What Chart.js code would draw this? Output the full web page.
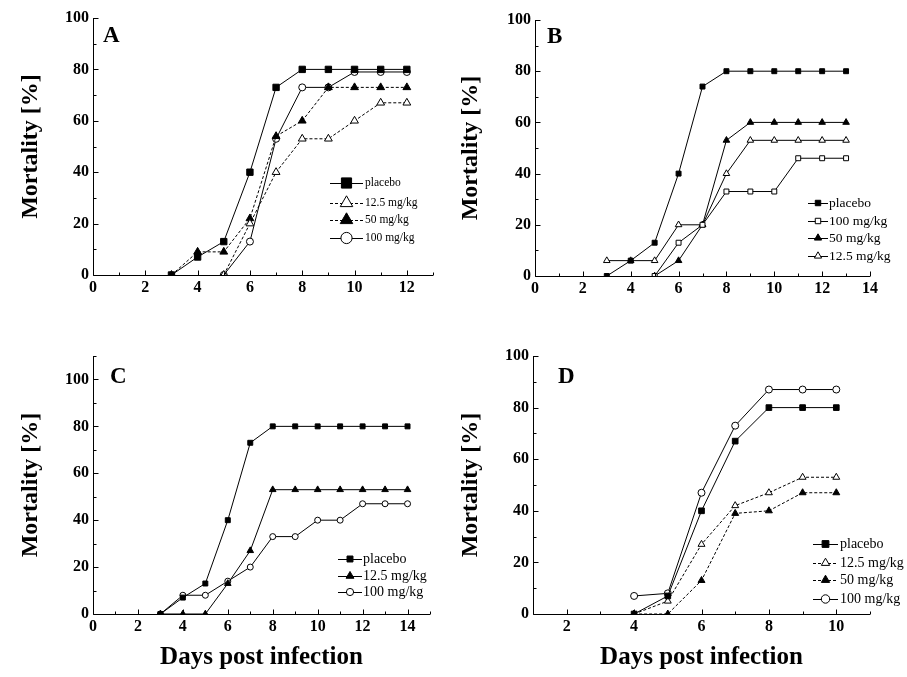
<!DOCTYPE html>
<html>
<head>
<meta charset="utf-8">
<script src="https://cdn.jsdelivr.net/npm/chart.js@4.4.0/dist/chart.umd.min.js"></script>
<style>
  body { margin:0; background:#fff; width:907px; height:677px; position:relative; overflow:hidden; }
  canvas { position:absolute; }
</style>
</head>
<body>
<canvas id="chartA" width="450" height="310" style="left:0;top:0"></canvas>
<canvas id="chartB" width="467" height="310" style="left:440px;top:0"></canvas>
<canvas id="chartC" width="450" height="347" style="left:0;top:330px"></canvas>
<canvas id="chartD" width="467" height="347" style="left:440px;top:330px"></canvas>
<script>
// --- data ---
const daysA = [3, 4, 5, 6, 7, 8, 9, 10, 11, 12];
const placeboA = [0, 7, 13, 40, 73, 80, 80, 80, 80, 80];
const mg125A = [null, null, 0, 20, 40, 53, 53, 60, 67, 67];
const mg50A = [0, 9, 9, 22, 54, 60, 73, 73, 73, 73];
const mg100A = [null, null, 0, 13, 53, 73, 73, 79, 79, 79];

const daysB = [3, 4, 5, 6, 7, 8, 9, 10, 11, 12, 13];
const placeboB = [0, 6, 13, 40, 74, 80, 80, 80, 80, 80, 80];
const mg100B = [null, null, 0, 13, 20, 33, 33, 33, 46, 46, 46];
const mg50B = [null, null, 0, 6, 20, 53, 60, 60, 60, 60, 60];
const mg125B = [6, 6, 6, 20, 20, 40, 53, 53, 53, 53, 53];

const daysC = [3, 4, 5, 6, 7, 8, 9, 10, 11, 12, 13, 14];
const placeboC = [0, 7, 13, 40, 73, 80, 80, 80, 80, 80, 80, 80];
const mg125C = [0, 0, 0, 13, 27, 53, 53, 53, 53, 53, 53, 53];
const mg100C = [0, 8, 8, 14, 20, 33, 33, 40, 40, 47, 47, 47];

const daysD = [4, 5, 6, 7, 8, 9, 10];
const placeboD = [0, 7, 40, 67, 80, 80, 80];
const mg125D = [0, 5, 27, 42, 47, 53, 53];
const mg50D = [0, 0, 13, 39, 40, 47, 47];
const mg100D = [7, 8, 47, 73, 87, 87, 87];

const FAMILY = "'Liberation Serif', 'Times New Roman', serif";

// marker kinds: sq = filled square, osq = open square, tri / otri = triangles, oc = open circle
function series(label, days, values, kind, r, dashed) {
  const open = kind.charAt(0) === 'o';
  const style = { sq: 'rect', osq: 'rect', tri: 'triangle', otri: 'triangle', oc: 'circle' }[kind];
  return {
    label: label,
    data: days.map((d, i) => ({ x: d, y: values[i] })),
    borderColor: '#000',
    borderWidth: 1,
    borderDash: dashed ? [3, 2] : [],
    pointStyle: style,
    pointRadius: r,
    pointBackgroundColor: open ? '#fff' : '#000',
    pointBorderColor: '#000',
    pointBorderWidth: 1,
    fill: false,
    tension: 0,
    spanGaps: false
  };
}

// axis lines + inward ticks (minor every step, longer at labelled values)
const inwardTicks = {
  id: 'inwardTicks',
  afterDraw(chart) {
    const { ctx, scales: { x, y } } = chart;
    ctx.save();
    ctx.strokeStyle = '#000';
    ctx.lineWidth = 1;
    ctx.beginPath();
    const bx = Math.round(x.top) + 0.5;
    const ly = Math.round(y.right) + 0.5;
    ctx.moveTo(ly, y.top);
    ctx.lineTo(ly, bx);
    ctx.lineTo(x.right, bx);
    for (let v = x.min; v <= x.max; v++) {
      const px = Math.round(x.getPixelForValue(v)) + 0.5;
      const len = v % 2 === 0 ? 5 : 3;
      ctx.moveTo(px, bx);
      ctx.lineTo(px, bx - len);
    }
    for (let v = y.min; v <= y.max; v += 10) {
      const py = Math.round(y.getPixelForValue(v)) + 0.5;
      const len = v % 20 === 0 ? 5 : 3;
      ctx.moveTo(ly, py);
      ctx.lineTo(ly + len, py);
    }
    ctx.stroke();
    ctx.restore();
  }
};

// panel letter and in-plot legend
const panelDeco = {
  id: 'panelDeco',
  afterDraw(chart, args, opts) {
    const ctx = chart.ctx;
    ctx.save();
    ctx.fillStyle = '#000';
    ctx.font = 'bold 23px ' + FAMILY;
    ctx.textBaseline = 'alphabetic';
    ctx.fillText(opts.letter, opts.lx, opts.ly);

    ctx.font = opts.fontSize + 'px ' + FAMILY;
    ctx.textBaseline = 'middle';
    chart.data.datasets.forEach((ds, i) => {
      const yy = opts.ys[i];
      ctx.strokeStyle = '#000';
      ctx.lineWidth = 1;
      ctx.setLineDash(ds.borderDash);
      ctx.beginPath();
      ctx.moveTo(opts.x0, yy + 0.5);
      ctx.lineTo(opts.x1, yy + 0.5);
      ctx.stroke();
      ctx.setLineDash([]);
      ctx.fillStyle = ds.pointBackgroundColor;
      Chart.helpers.drawPoint(ctx, {
        pointStyle: ds.pointStyle, radius: ds.pointRadius * opts.k, rotation: 0, borderWidth: 1
      }, (opts.x0 + opts.x1) / 2, yy);
      ctx.fillStyle = '#000';
      ctx.fillText(ds.label, opts.xt, yy);
    });
    ctx.restore();
  }
};

function makeChart(id, datasets, cfg) {
  const tickFont = { family: FAMILY, size: 16, weight: 'bold' };
  return new Chart(document.getElementById(id), {
    type: 'line',
    data: { datasets: datasets },
    options: {
      responsive: false,
      animation: false,
      layout: { padding: { top: cfg.top, right: cfg.right, left: 0, bottom: 0 } },
      plugins: {
        legend: { display: false },
        tooltip: { enabled: false },
        panelDeco: cfg.deco
      },
      scales: {
        x: {
          type: 'linear', min: cfg.xmin, max: cfg.xmax,
          grid: { display: false, drawTicks: false }, border: { display: false },
          ticks: {
            stepSize: 1, autoSkip: false, maxRotation: 0, padding: 3, color: '#000', font: tickFont,
            callback: v => (v % 2 === 0 && v <= cfg.xlab) ? v : ''
          },
          title: {
            display: cfg.xTitle, text: 'Days post infection', color: '#000',
            font: { family: FAMILY, size: 25, weight: 'bold' }, padding: { top: 0, bottom: 4 }
          },
          afterFit: s => { s.height = cfg.xh; }
        },
        y: {
          min: 0, max: cfg.ymax,
          grid: { display: false, drawTicks: false }, border: { display: false },
          ticks: {
            stepSize: 10, autoSkip: false, padding: 4, color: '#000', font: tickFont,
            callback: v => (v % 20 === 0 && v <= 100) ? v : ''
          },
          title: {
            display: true, text: 'Mortality [%]', color: '#000',
            font: { family: FAMILY, size: 24, weight: 'bold' }, padding: { top: 16, bottom: 0 }
          },
          afterFit: s => { s.width = cfg.yw; }
        }
      }
    },
    plugins: [inwardTicks, panelDeco]
  });
}

makeChart('chartA', [
  series('placebo', daysA, placeboA, 'sq', 4.5, false),
  series('12.5 mg/kg', daysA, mg125A, 'otri', 4.5, true),
  series('50 mg/kg', daysA, mg50A, 'tri', 4.5, true),
  series('100 mg/kg', daysA, mg100A, 'oc', 3.5, false)
], {
  xmin: 0, xmax: 13, xlab: 12, ymax: 100, top: 18, right: 17, yw: 93, xh: 35, xTitle: false,
  deco: { letter: 'A', lx: 103, ly: 42, x0: 330, x1: 363, xt: 365, ys: [183, 203, 220, 238], fontSize: 11.5, k: 1.6 }
});

makeChart('chartB', [
  series('placebo', daysB, placeboB, 'sq', 3.5, false),
  series('100 mg/kg', daysB, mg100B, 'osq', 3.5, false),
  series('50 mg/kg', daysB, mg50B, 'tri', 3.8, false),
  series('12.5 mg/kg', daysB, mg125B, 'otri', 3.8, false)
], {
  xmin: 0, xmax: 14, xlab: 14, ymax: 100, top: 20, right: 37, yw: 95, xh: 34, xTitle: false,
  deco: { letter: 'B', lx: 107, ly: 43, x0: 368, x1: 388, xt: 389, ys: [203, 221, 238, 256], fontSize: 13.5, k: 1.1 }
});

makeChart('chartC', [
  series('placebo', daysC, placeboC, 'sq', 3.5, false),
  series('12.5 mg/kg', daysC, mg125C, 'tri', 3.8, false),
  series('100 mg/kg', daysC, mg100C, 'oc', 3, false)
], {
  xmin: 0, xmax: 15, xlab: 14, ymax: 110, top: 26, right: 20, yw: 93, xh: 63, xTitle: true,
  deco: { letter: 'C', lx: 110, ly: 53, x0: 338, x1: 362, xt: 363, ys: [229, 246, 262], fontSize: 14, k: 1.2 }
});

makeChart('chartD', [
  series('placebo', daysD, placeboD, 'sq', 4, false),
  series('12.5 mg/kg', daysD, mg125D, 'otri', 4, true),
  series('50 mg/kg', daysD, mg50D, 'tri', 4, true),
  series('100 mg/kg', daysD, mg100D, 'oc', 3.5, false)
], {
  xmin: 1, xmax: 11, xlab: 10, ymax: 100, top: 26, right: 37, yw: 93, xh: 63, xTitle: true,
  deco: { letter: 'D', lx: 118, ly: 53, x0: 373, x1: 398, xt: 400, ys: [214, 233, 250, 269], fontSize: 14, k: 1.2 }
});
</script>
</body>
</html>
